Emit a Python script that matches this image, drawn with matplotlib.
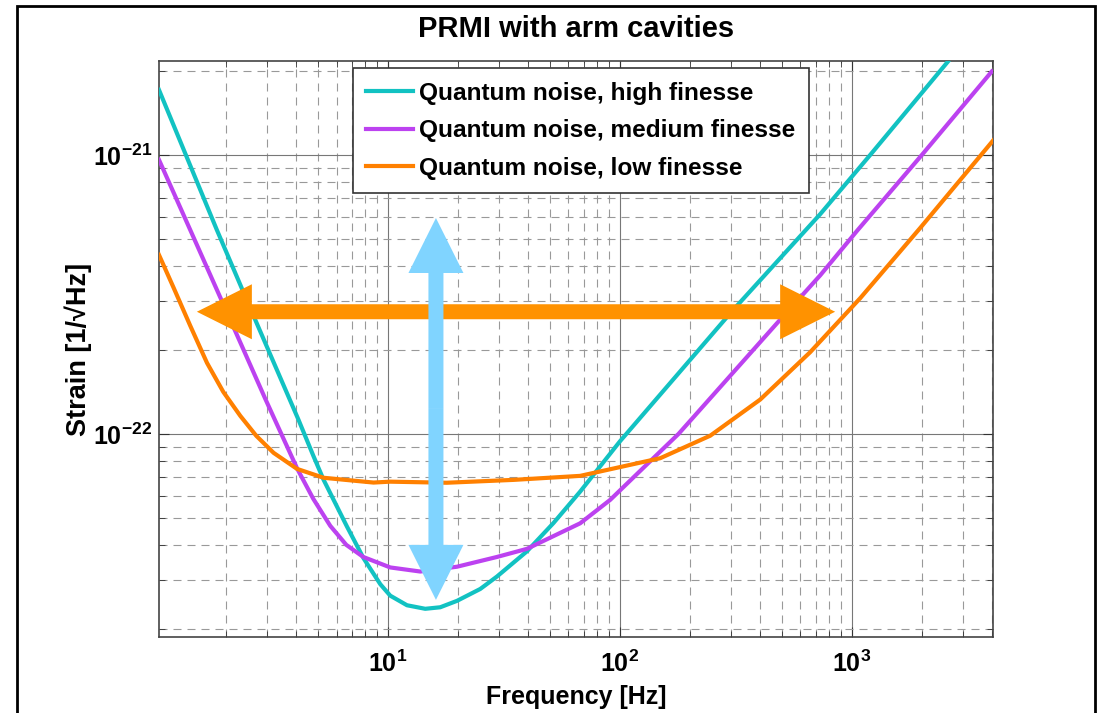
import matplotlib
matplotlib.use("Agg")
import matplotlib.pyplot as plt
import numpy as np
from matplotlib.patches import FancyArrowPatch, Rectangle, ArrowStyle
from matplotlib.ticker import LogLocator, FuncFormatter, NullFormatter

plt.rcParams["font.family"] = ["Liberation Sans", "DejaVu Sans"]
plt.rcParams["font.weight"] = "bold"
plt.rcParams["mathtext.fontset"] = "custom"
plt.rcParams["mathtext.rm"] = "Liberation Sans:bold"
plt.rcParams["mathtext.bf"] = "Liberation Sans:bold"

# %% Data

# Quantum noise, high finesse  [Hz], [1/sqrt(Hz)]
freq_high = [1.03, 1.83, 2.68, 4.12, 4.78, 5.28, 6.65, 7.85, 9.27, 10.23,
             12.08, 14.48, 16.8, 19.84, 25.0, 29.5, 39.7, 51.7, 67.4, 100,
             304, 730, 1200, 2594]
strain_high = [1.71e-21, 5.38e-22, 2.56e-22, 1.12e-22, 8.3e-23, 6.84e-23,
               4.66e-23, 3.58e-23, 2.89e-23, 2.63e-23, 2.43e-23, 2.36e-23,
               2.39e-23, 2.52e-23, 2.78e-23, 3.08e-23, 3.79e-23, 4.79e-23,
               6.21e-23, 9.4e-23, 2.75e-22, 6.13e-22, 1.0e-21, 2.16e-21]

# Quantum noise, medium finesse
freq_med = [1.03, 1.405, 2.091, 2.959, 3.468, 4.066, 4.764, 5.64, 6.612,
            7.826, 10.23, 13.78, 19.84, 29.5, 39.7, 67.4, 90.8, 144, 179,
            475, 730, 1052, 2004, 4009]
strain_med = [9.6e-22, 5.38e-22, 2.56e-22, 1.335e-22, 1.0e-22, 7.49e-23,
              5.85e-23, 4.68e-23, 4.0e-23, 3.62e-23, 3.32e-23, 3.21e-23,
              3.34e-23, 3.62e-23, 3.87e-23, 4.78e-23, 5.8e-23, 8.4e-23,
              1.0e-22, 2.49e-22, 3.70e-22, 5.34e-22, 1.0e-21, 1.99e-21]

# Quantum noise, low finesse
freq_low = [1.03, 1.191, 1.405, 1.659, 1.95, 2.309, 2.706, 3.213, 4.053,
            5.277, 8.667, 10.2, 17.9, 34.8, 67.4, 149.2, 245.1, 402.4,
            661.3, 1086, 1970, 4077]
strain_low = [4.38e-22, 3.34e-22, 2.44e-22, 1.796e-22, 1.414e-22, 1.16e-22,
              9.84e-23, 8.55e-23, 7.49e-23, 6.96e-23, 6.69e-23, 6.74e-23,
              6.68e-23, 6.84e-23, 7.07e-23, 8.18e-23, 9.85e-23, 1.327e-22,
              1.963e-22, 3.064e-22, 5.47e-22, 1.13e-21]

labels = [
    "Quantum noise, high finesse",
    "Quantum noise, medium finesse",
    "Quantum noise, low finesse",
]

# Annotation arrows (data coordinates)
band_f = [1.50, 847]        # horizontal arrow ends [Hz]
band_s = 2.74e-22           # horizontal arrow height
depth_f = 16.1              # vertical arrow frequency [Hz]
depth_s = [5.94e-22, 2.54e-23]  # vertical arrow ends

# %% Plot

fig = plt.figure(figsize=(10.98, 7.13), dpi=100)
ax = fig.add_axes([0.1448, 0.1066, 0.7596, 0.8078])

colors = ["#12C2C2", "#BC42F0", "#FF8000"]
for f, s, c, lbl in zip([freq_high, freq_med, freq_low],
                        [strain_high, strain_med, strain_low], colors, labels):
    ax.loglog(f, s, color=c, lw=3, label=lbl, zorder=3,
              solid_joinstyle="round")

ax.set_xlim(1.03, 4060)
ax.set_ylim(1.87e-23, 2.17e-21)

ax.xaxis.set_major_locator(LogLocator(base=10))
ax.yaxis.set_major_locator(LogLocator(base=10))
ax.xaxis.set_minor_locator(LogLocator(base=10, subs=np.arange(2, 10)))
ax.yaxis.set_minor_locator(LogLocator(base=10, subs=np.arange(2, 10)))
fmt = FuncFormatter(lambda v, pos: r"$\mathbf{10^{%d}}$" % round(np.log10(v)))
ax.xaxis.set_major_formatter(fmt)
ax.yaxis.set_major_formatter(fmt)
ax.xaxis.set_minor_formatter(NullFormatter())
ax.yaxis.set_minor_formatter(NullFormatter())
ax.tick_params(which="both", direction="in", top=True, right=True,
               labelsize=18, color="#333333")
ax.tick_params(which="major", length=7, width=0.8)
ax.tick_params(which="minor", length=4, width=0.6)
ax.tick_params(axis="x", pad=10)
ax.tick_params(axis="y", pad=5)

ax.grid(which="major", color="#777777", lw=0.8, ls="-", zorder=1)
ax.grid(which="minor", color="#999999", lw=0.8, ls=(0, (7.2, 5.4)), zorder=1)
for sp in ax.spines.values():
    sp.set_color("#444444")
    sp.set_linewidth(1.2)


# Arrows: each double arrow is two single arrows from the middle outwards
def double_arrow(p0, p1, mid, color):
    for end in (p0, p1):
        ax.add_patch(FancyArrowPatch(
            mid, end,
            arrowstyle=ArrowStyle("Simple", head_length=39.6, head_width=39.6,
                                  tail_width=10.8),
            mutation_scale=1, shrinkA=0, shrinkB=0, lw=0, color=color,
            zorder=5))


mid_f = np.sqrt(band_f[0] * band_f[1])
double_arrow((band_f[0], band_s), (band_f[1], band_s), (mid_f, band_s), "#FF9200")
mid_s = np.sqrt(depth_s[0] * depth_s[1])
double_arrow((depth_f, depth_s[0]), (depth_f, depth_s[1]), (depth_f, mid_s), "#80D4FF")

leg = ax.legend(loc="upper left", bbox_to_anchor=(0.2326, 0.9878),
                borderaxespad=0, fancybox=False, framealpha=1,
                edgecolor="#333333", handlelength=1.9, handletextpad=0.25,
                labelspacing=0.6, borderpad=0.55,
                prop=dict(weight="bold", size=17.6))
leg.get_frame().set_linewidth(1.2)
leg.set_zorder(6)

fig.text(0.5246, 0.959, "PRMI with arm cavities", ha="center", va="center",
         fontsize=21, fontweight="bold")
fig.text(0.5246, 0.0224, "Frequency [Hz]", ha="center", va="center",
         fontsize=18, fontweight="bold")
fig.text(0.071, 0.51, "Strain [1/\u221aHz]", ha="center", va="center",
         rotation=90, fontsize=19.5, fontweight="bold")

# Figure border
fig.patches.append(Rectangle((17 / 1098, -0.02), 1078 / 1098, 1.0116,
                             transform=fig.transFigure, fill=False,
                             edgecolor="black", lw=2))

fig.savefig("out.png", dpi=100)
